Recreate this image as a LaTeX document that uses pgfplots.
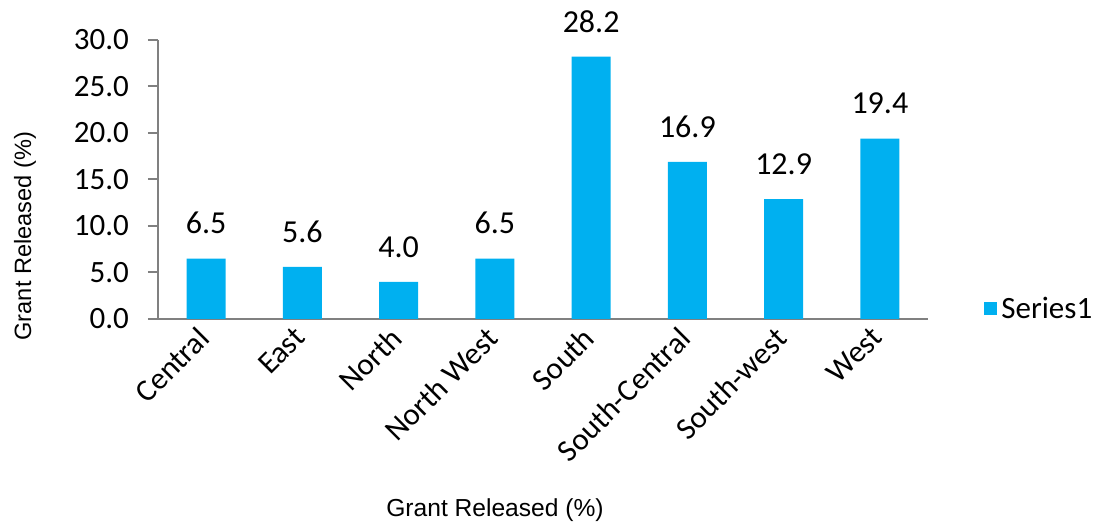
\documentclass[border=0pt]{standalone}
\usepackage{pgfplots}
\pgfplotsset{compat=1.18}
\usepackage{fontspec}
\setmainfont{Carlito}
\newfontfamily\arialfont{Liberation Sans}
\definecolor{barblue}{RGB}{0,176,240}
\definecolor{axgray}{RGB}{128,128,128}

\begin{document}
\begin{tikzpicture}
\useasboundingbox (-79pt,-102pt) rectangle (471pt,159.5pt);
\begin{axis}[
    at={(0pt,0pt)}, anchor=south west,
    scale only axis,
    width=385pt, height=139.5pt,
    xmin=-0.5, xmax=7.5,
    ymin=0, ymax=30,
    axis x line*=bottom, axis y line*=left,
    axis line style={axgray, line width=1pt},
    xtick={0,...,7},
    xticklabels={Central,East,North,North West,South,South-Central,South-west,West},
    xtick style={draw=none},
    x tick label style={rotate=45, anchor=north east, font=\fontsize{15.5}{17}\selectfont, inner sep=1pt, xshift=-1pt, yshift=6pt},
    ytick={0,5,...,30},
    tick align=outside,
    major tick length=5pt,
    ytick style={axgray, line width=1pt},
    y tick label style={font=\fontsize{15.5}{17}\selectfont, xshift=-6pt,
        /pgf/number format/fixed, /pgf/number format/fixed zerofill,
        /pgf/number format/precision=1, /pgf/number format/assume math mode=true},
    ylabel={\arialfont Grant Released (\%)},
    ylabel style={font=\fontsize{11.8}{14}\selectfont, at={(axis description cs:0,0.297)}, anchor=center, yshift=66.5pt},
    xlabel={\arialfont Grant Released (\%)},
    xlabel style={font=\fontsize{12.3}{14}\selectfont, at={(axis description cs:0.4377,0)}, anchor=center, yshift=-95.5pt},
    ybar, bar width=19.5pt,
    nodes near coords,
    every node near coord/.append style={font=\fontsize{16}{18}\selectfont, anchor=south, inner sep=0pt, yshift=12pt,
        /pgf/number format/fixed, /pgf/number format/fixed zerofill,
        /pgf/number format/precision=1, /pgf/number format/assume math mode=true},
    legend style={draw=none, at={(1,0.036)}, anchor=west, xshift=28pt, font=\fontsize{15.5}{17}\selectfont, inner sep=0pt},
    legend image code/.code={\fill[barblue] (0pt,-3.25pt) rectangle (6.5pt,3.25pt);},
    clip=false,
]
\addplot[fill=barblue, draw=none] coordinates {
    (0,6.5) (1,5.6) (2,4.0) (3,6.5) (4,28.2) (5,16.9) (6,12.9) (7,19.4)
};
\legend{Series1}
\end{axis}
\end{tikzpicture}
\end{document}
